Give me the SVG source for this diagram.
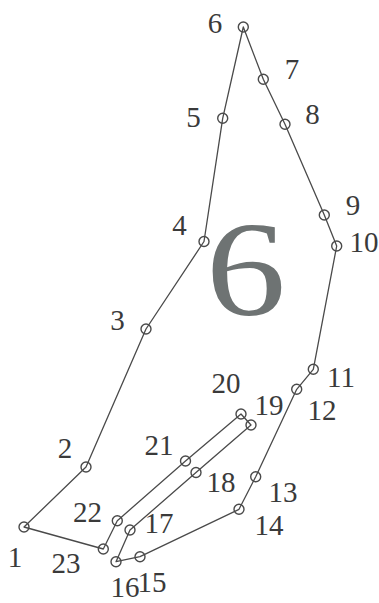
<svg xmlns="http://www.w3.org/2000/svg" width="379" height="603" viewBox="0 0 379 603">
<style>
.n circle{fill:none;stroke:#4a4a4a;stroke-width:1.4}
.n text{font-family:"Liberation Serif","Times New Roman",serif;font-size:29px;fill:#3a3a3a;text-anchor:middle}
.c{fill:none;stroke:#4a4a4a;stroke-width:1.3;stroke-linejoin:round}
</style>
<rect width="379" height="603" fill="#ffffff"/>
<g id="connectors">
<polygon class="c" points="24,527 86,467 146,329 204,241.5 222.7,118.3 243.3,27 263.3,79.3 285,124.3 324.3,215 336.7,246 313.3,369.3 296.7,389.3 255.7,476.7 239,509.3 140,556.7 116,561.7 130,530 196,472.5 251,425 241,414 185.5,461 117.3,520.7 103.3,549"/>
</g>
<text id="title" x="246" y="315" font-family="Liberation Serif, Times New Roman, serif" font-size="136" fill="#6e7373" text-anchor="middle" transform="translate(246,0) scale(1.18,1) translate(-246,0)">6</text>
<g id="n1" class="n"><circle cx="24" cy="527" r="5"/><text x="15" y="567">1</text></g>
<g id="n2" class="n"><circle cx="86" cy="467" r="5"/><text x="65" y="458">2</text></g>
<g id="n3" class="n"><circle cx="146" cy="329" r="5"/><text x="117.5" y="330">3</text></g>
<g id="n4" class="n"><circle cx="204" cy="241.5" r="5"/><text x="179.5" y="235">4</text></g>
<g id="n5" class="n"><circle cx="222.7" cy="118.3" r="5"/><text x="193.5" y="127">5</text></g>
<g id="n6" class="n"><circle cx="243.3" cy="27" r="5"/><text x="215" y="33">6</text></g>
<g id="n7" class="n"><circle cx="263.3" cy="79.3" r="5"/><text x="292" y="79">7</text></g>
<g id="n8" class="n"><circle cx="285" cy="124.3" r="5"/><text x="312.5" y="124">8</text></g>
<g id="n9" class="n"><circle cx="324.3" cy="215" r="5"/><text x="353" y="215">9</text></g>
<g id="n10" class="n"><circle cx="336.7" cy="246" r="5"/><text x="364" y="252">10</text></g>
<g id="n11" class="n"><circle cx="313.3" cy="369.3" r="5"/><text x="341" y="387">11</text></g>
<g id="n12" class="n"><circle cx="296.7" cy="389.3" r="5"/><text x="322" y="420">12</text></g>
<g id="n13" class="n"><circle cx="255.7" cy="476.7" r="5"/><text x="283" y="502">13</text></g>
<g id="n14" class="n"><circle cx="239" cy="509.3" r="5"/><text x="269" y="535">14</text></g>
<g id="n15" class="n"><circle cx="140" cy="556.7" r="5"/><text x="152" y="592">15</text></g>
<g id="n16" class="n"><circle cx="116" cy="561.7" r="5"/><text x="125" y="597">16</text></g>
<g id="n17" class="n"><circle cx="130" cy="530" r="5"/><text x="159" y="533">17</text></g>
<g id="n18" class="n"><circle cx="196" cy="472.5" r="5"/><text x="221" y="492">18</text></g>
<g id="n19" class="n"><circle cx="251" cy="425" r="5"/><text x="269" y="415">19</text></g>
<g id="n20" class="n"><circle cx="241" cy="414" r="5"/><text x="226" y="393">20</text></g>
<g id="n21" class="n"><circle cx="185.5" cy="461" r="5"/><text x="159" y="455">21</text></g>
<g id="n22" class="n"><circle cx="117.3" cy="520.7" r="5"/><text x="87.5" y="522">22</text></g>
<g id="n23" class="n"><circle cx="103.3" cy="549" r="5"/><text x="66" y="573">23</text></g>
</svg>
